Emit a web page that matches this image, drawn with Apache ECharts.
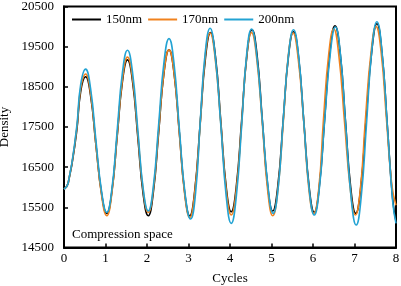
<!DOCTYPE html>
<html>
<head>
<meta charset="utf-8">
<script src="https://cdn.jsdelivr.net/npm/echarts@6/dist/echarts.min.js"></script>
<style>html,body{margin:0;padding:0;background:#fff}#c{width:401px;height:286px}</style>
</head>
<body>
<div id="c"></div>
<script>
const seriesNames = ['150nm', '170nm', '200nm'];
const seriesColors = ['#000000', '#F0821E', '#23A3D3'];
const yTicks = [14500, 15500, 16500, 17500, 18500, 19500, 20500];
const xTicks = [0, 1, 2, 3, 4, 5, 6, 7, 8];

const cyc150 = [0, 0.1, 0.3, 0.40, 0.52, 0.64, 0.77, 0.91, 1.03, 1.15, 1.28, 1.41, 1.53, 1.65, 1.78, 1.91, 2.03, 2.15, 2.28, 2.41, 2.53, 2.65, 2.78, 2.91, 3.03, 3.15, 3.28, 3.41, 3.53, 3.65, 3.78, 3.91, 4.03, 4.15, 4.28, 4.41, 4.53, 4.65, 4.78, 4.91, 5.03, 5.15, 5.28, 5.41, 5.53, 5.65, 5.78, 5.91, 6.03, 6.15, 6.28, 6.41, 6.53, 6.65, 6.78, 6.91, 7.03, 7.15, 7.28, 7.42, 7.54, 7.66, 7.79, 7.92, 8];
const den150 = [15950, 16100, 17350, 18370, 18750, 18290, 17050, 15810, 15350, 15860, 17250, 18650, 19170, 18650, 17230, 15810, 15290, 15850, 17350, 18860, 19420, 18860, 17350, 15850, 15290, 15910, 17570, 19230, 19850, 19250, 17620, 15990, 15390, 16000, 17650, 19310, 19920, 19310, 17660, 16020, 15410, 16010, 17640, 19270, 19870, 19260, 17620, 15980, 15375, 16000, 17700, 19390, 20020, 19390, 17680, 15980, 15350, 15990, 17710, 19430, 20070, 19370, 17550, 15700, 15150];

const cyc170 = [0, 0.1, 0.3, 0.40, 0.52, 0.64, 0.77, 0.91, 1.03, 1.15, 1.28, 1.41, 1.53, 1.65, 1.78, 1.91, 2.03, 2.15, 2.28, 2.41, 2.53, 2.65, 2.78, 2.91, 3.03, 3.15, 3.28, 3.40, 3.52, 3.64, 3.78, 3.91, 4.03, 4.15, 4.28, 4.40, 4.52, 4.64, 4.78, 4.91, 5.03, 5.15, 5.28, 5.40, 5.52, 5.64, 5.78, 5.90, 6.02, 6.14, 6.25, 6.38, 6.5, 6.62, 6.76, 6.90, 7.02, 7.14, 7.26, 7.40, 7.52, 7.64, 7.77, 7.90, 8];
const den170 = [15950, 16100, 17400, 18440, 18820, 18340, 17050, 15770, 15290, 15830, 17270, 18700, 19240, 18720, 17310, 15900, 15375, 15920, 17400, 18870, 19420, 18860, 17330, 15810, 15250, 15870, 17540, 19220, 19840, 19230, 17570, 15920, 15310, 15920, 17580, 19240, 19850, 19240, 17570, 15900, 15290, 15900, 17560, 19230, 19840, 19230, 17590, 15960, 15350, 15970, 17650, 19320, 19940, 19310, 17620, 15940, 15310, 15940, 17650, 19370, 20000, 19380, 17700, 16050, 15550];

const cyc200 = [0, 0.1, 0.3, 0.40, 0.52, 0.64, 0.77, 0.91, 1.03, 1.15, 1.28, 1.41, 1.53, 1.65, 1.78, 1.91, 2.03, 2.15, 2.28, 2.41, 2.53, 2.65, 2.78, 2.92, 3.05, 3.17, 3.28, 3.40, 3.52, 3.64, 3.78, 3.91, 4.03, 4.15, 4.28, 4.40, 4.52, 4.64, 4.78, 4.92, 5.04, 5.16, 5.28, 5.41, 5.53, 5.65, 5.78, 5.91, 6.03, 6.15, 6.28, 6.42, 6.54, 6.66, 6.79, 6.92, 7.04, 7.16, 7.29, 7.42, 7.54, 7.66, 7.79, 7.92, 8];
const den200 = [15950, 16100, 17450, 18540, 18940, 18460, 17160, 15860, 15375, 15920, 17390, 18870, 19410, 18870, 17410, 15950, 15410, 15990, 17550, 19120, 19700, 19090, 17450, 15820, 15210, 15850, 17580, 19320, 19960, 19300, 17530, 15760, 15100, 15750, 17520, 19290, 19940, 19320, 17640, 15970, 15350, 15970, 17640, 19300, 19920, 19300, 17610, 15930, 15310, 15940, 17650, 19360, 19990, 19320, 17520, 15730, 15060, 15740, 17590, 19440, 20120, 19410, 17550, 15650, 15100];

const xs = [cyc150, cyc170, cyc200];
const ys = [den150, den170, den200];
const font = '"Liberation Serif", "Times New Roman", serif';

const chart = echarts.init(document.getElementById('c'), null, {renderer: 'canvas'});
chart.setOption({
  animation: false,
  backgroundColor: '#fff',
  grid: {left: 64, right: 5, top: 6.5, bottom: 38.5, show: true, borderColor: '#000', borderWidth: 2, containLabel: false, outerBoundsMode: 'none'},
  legend: {
    data: seriesNames, left: 67, top: 8, itemWidth: 29, itemHeight: 2, itemGap: 6, icon: 'rect',
    textStyle: {fontFamily: font, fontSize: 13, color: '#000'}
  },
  xAxis: {
    type: 'value', min: xTicks[0], max: xTicks[xTicks.length - 1], interval: 1,
    name: 'Cycles', nameLocation: 'middle', nameGap: 25,
    nameTextStyle: {fontFamily: font, fontSize: 13, color: '#000'},
    axisLine: {show: true, lineStyle: {color: '#000', width: 2}},
    axisTick: {show: true, inside: true, length: 4, lineStyle: {color: '#000', width: 1.5}},
    axisLabel: {fontFamily: font, fontSize: 13, color: '#000', margin: 5},
    splitLine: {show: false}
  },
  yAxis: {
    type: 'value', min: yTicks[0], max: yTicks[yTicks.length - 1], interval: 1000,
    name: 'Density', nameLocation: 'middle', nameGap: 42,
    nameTextStyle: {fontFamily: font, fontSize: 13, color: '#000'},
    axisLine: {show: true, lineStyle: {color: '#000', width: 2}},
    axisTick: {show: true, inside: true, length: 4, lineStyle: {color: '#000', width: 1.5}},
    axisLabel: {fontFamily: font, fontSize: 13, color: '#000', margin: 10, formatter: v => String(v)},
    splitLine: {show: false}
  },
  graphic: [{
    type: 'text', left: 72, top: 228,
    style: {text: 'Compression space', font: '13px ' + font, fill: '#000'}
  }],
  series: seriesNames.map((n, i) => ({
    name: n, type: 'line', smooth: 0.5, symbol: 'none',
    data: xs[i].map((x, j) => [x, ys[i][j]]),
    lineStyle: {color: seriesColors[i], width: 1.6},
    itemStyle: {color: seriesColors[i]},
    z: 2 + i
  }))
});
</script>
</body>
</html>
